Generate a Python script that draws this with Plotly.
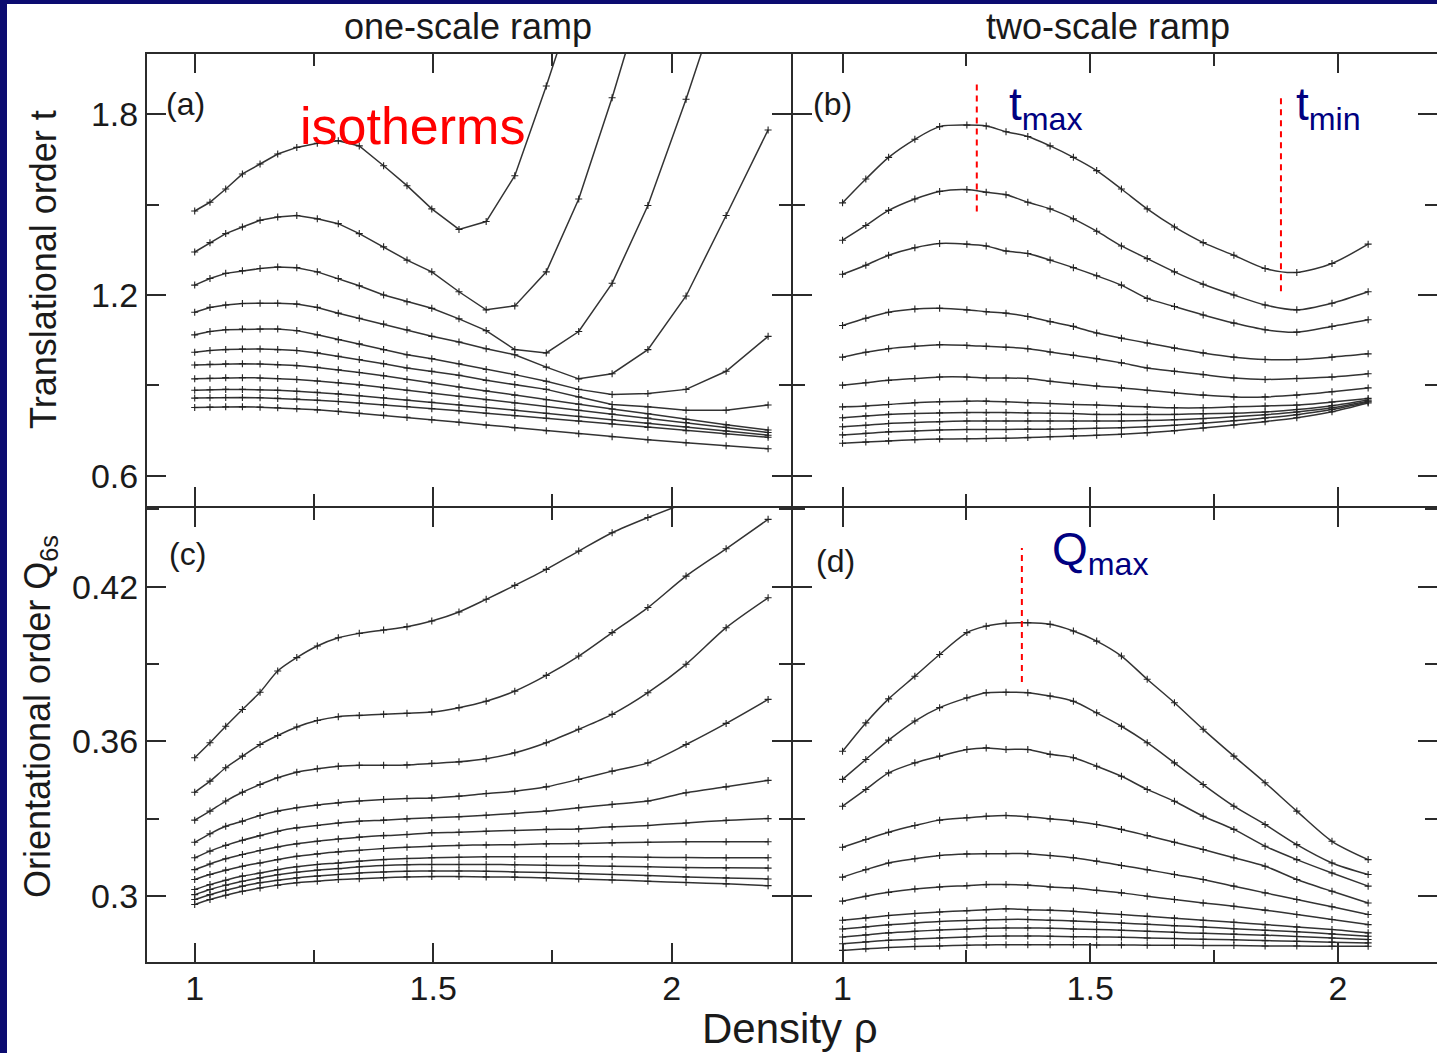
import plotly.graph_objects as go

W, H = 1437, 1053
FONT = "Liberation Sans"
INK = "#2b2b2b"
NAVY = "#000080"

# densities of the two ramp potentials
rho_one = [1.000, 1.032, 1.065, 1.100, 1.137, 1.174, 1.214, 1.257, 1.301, 1.345, 1.396, 1.445,
           1.497, 1.554, 1.611, 1.671, 1.737, 1.805, 1.875, 1.950, 2.030, 2.114, 2.202]
rho_two = [1.000, 1.047, 1.093, 1.146, 1.196, 1.251, 1.290, 1.330, 1.374, 1.419, 1.466, 1.513,
           1.563, 1.615, 1.670, 1.728, 1.790, 1.853, 1.917, 1.988, 2.061]

# (a) translational order t, one-scale ramp (isotherms, low T at top)
t_one = [
    [1.479, 1.508, 1.552, 1.602, 1.635, 1.668, 1.690, 1.704, 1.712, 1.695, 1.629, 1.563, 1.486, 1.418, 1.444, 1.596, 1.894, 2.220, None, None, None, None, None],
    [1.343, 1.374, 1.404, 1.426, 1.448, 1.459, 1.464, 1.453, 1.437, 1.404, 1.360, 1.316, 1.277, 1.211, 1.151, 1.164, 1.277, 1.519, 1.855, 2.250, None, None, None],
    [1.233, 1.255, 1.272, 1.281, 1.288, 1.293, 1.291, 1.277, 1.255, 1.231, 1.200, 1.178, 1.156, 1.121, 1.082, 1.019, 1.008, 1.079, 1.239, 1.497, 1.850, 2.250, None],
    [1.143, 1.159, 1.167, 1.172, 1.173, 1.173, 1.170, 1.159, 1.140, 1.123, 1.104, 1.085, 1.063, 1.044, 1.022, 1.002, 0.961, 0.922, 0.939, 1.019, 1.197, 1.464, 1.748],
    [1.068, 1.079, 1.085, 1.087, 1.087, 1.087, 1.082, 1.068, 1.052, 1.038, 1.019, 1.002, 0.989, 0.972, 0.953, 0.936, 0.914, 0.887, 0.870, 0.873, 0.887, 0.947, 1.063],
    [1.010, 1.016, 1.019, 1.021, 1.021, 1.019, 1.016, 1.008, 0.997, 0.986, 0.972, 0.958, 0.947, 0.934, 0.917, 0.903, 0.887, 0.862, 0.837, 0.829, 0.818, 0.818, 0.835],
    [0.968, 0.970, 0.972, 0.972, 0.971, 0.969, 0.966, 0.960, 0.952, 0.943, 0.932, 0.920, 0.908, 0.895, 0.882, 0.868, 0.853, 0.838, 0.822, 0.806, 0.788, 0.770, 0.752],
    [0.922, 0.924, 0.926, 0.926, 0.925, 0.923, 0.920, 0.915, 0.909, 0.902, 0.893, 0.884, 0.874, 0.864, 0.853, 0.842, 0.830, 0.818, 0.805, 0.792, 0.777, 0.761, 0.744],
    [0.884, 0.886, 0.887, 0.887, 0.886, 0.884, 0.881, 0.877, 0.872, 0.866, 0.859, 0.852, 0.844, 0.836, 0.827, 0.818, 0.808, 0.798, 0.787, 0.775, 0.763, 0.749, 0.735],
    [0.858, 0.859, 0.860, 0.860, 0.859, 0.857, 0.855, 0.851, 0.847, 0.842, 0.836, 0.830, 0.823, 0.816, 0.808, 0.800, 0.791, 0.782, 0.772, 0.761, 0.750, 0.739, 0.728],
    [0.827, 0.828, 0.829, 0.829, 0.828, 0.826, 0.823, 0.819, 0.814, 0.808, 0.801, 0.794, 0.786, 0.778, 0.769, 0.760, 0.750, 0.740, 0.730, 0.720, 0.710, 0.700, 0.690],
]

# (b) translational order t, two-scale ramp
t_two = [
    [1.506, 1.585, 1.657, 1.717, 1.759, 1.764, 1.761, 1.742, 1.726, 1.695, 1.657, 1.613, 1.552, 1.486, 1.426, 1.374, 1.332, 1.288, 1.275, 1.305, 1.369],
    [1.382, 1.431, 1.481, 1.519, 1.544, 1.550, 1.541, 1.533, 1.508, 1.486, 1.453, 1.412, 1.363, 1.321, 1.277, 1.236, 1.200, 1.167, 1.151, 1.173, 1.211],
    [1.269, 1.299, 1.332, 1.357, 1.371, 1.369, 1.363, 1.346, 1.338, 1.316, 1.291, 1.264, 1.233, 1.189, 1.162, 1.134, 1.107, 1.085, 1.077, 1.096, 1.118],
    [1.099, 1.123, 1.143, 1.154, 1.156, 1.151, 1.145, 1.140, 1.129, 1.112, 1.096, 1.074, 1.057, 1.041, 1.024, 1.008, 0.994, 0.986, 0.986, 0.994, 1.005],
    [0.994, 1.010, 1.022, 1.030, 1.035, 1.033, 1.030, 1.027, 1.022, 1.011, 1.000, 0.989, 0.975, 0.958, 0.947, 0.936, 0.925, 0.920, 0.923, 0.928, 0.939],
    [0.901, 0.909, 0.917, 0.923, 0.928, 0.928, 0.925, 0.925, 0.923, 0.914, 0.906, 0.898, 0.892, 0.884, 0.876, 0.868, 0.862, 0.862, 0.868, 0.879, 0.892],
    [0.829, 0.832, 0.837, 0.843, 0.846, 0.848, 0.848, 0.846, 0.843, 0.840, 0.837, 0.835, 0.832, 0.829, 0.826, 0.826, 0.829, 0.832, 0.835, 0.845, 0.857],
    [0.793, 0.799, 0.804, 0.807, 0.809, 0.810, 0.810, 0.810, 0.809, 0.808, 0.807, 0.804, 0.804, 0.804, 0.804, 0.806, 0.808, 0.812, 0.820, 0.833, 0.852],
    [0.763, 0.768, 0.774, 0.777, 0.780, 0.782, 0.782, 0.782, 0.782, 0.782, 0.782, 0.782, 0.782, 0.784, 0.786, 0.790, 0.796, 0.803, 0.812, 0.826, 0.848],
    [0.736, 0.741, 0.746, 0.749, 0.752, 0.754, 0.754, 0.754, 0.755, 0.755, 0.756, 0.758, 0.760, 0.763, 0.768, 0.775, 0.783, 0.792, 0.803, 0.820, 0.845],
    [0.708, 0.712, 0.716, 0.720, 0.722, 0.723, 0.724, 0.725, 0.727, 0.730, 0.732, 0.735, 0.738, 0.743, 0.750, 0.759, 0.769, 0.780, 0.793, 0.813, 0.842],
]

# (c) orientational order Q6s, one-scale ramp
q_one = [
    [0.3537, 0.3595, 0.3659, 0.3724, 0.3791, 0.3873, 0.3925, 0.3970, 0.4002, 0.4019, 0.4032, 0.4045, 0.4067, 0.4102, 0.4151, 0.4205, 0.4267, 0.4338, 0.4409, 0.4468, 0.4525, None, None],
    [0.3403, 0.3446, 0.3498, 0.3543, 0.3588, 0.3623, 0.3656, 0.3681, 0.3696, 0.3701, 0.3705, 0.3709, 0.3714, 0.3731, 0.3756, 0.3795, 0.3856, 0.3931, 0.4022, 0.4119, 0.4241, 0.4347, 0.4461],
    [0.3295, 0.3330, 0.3369, 0.3403, 0.3433, 0.3459, 0.3481, 0.3494, 0.3504, 0.3508, 0.3508, 0.3509, 0.3515, 0.3521, 0.3533, 0.3556, 0.3595, 0.3647, 0.3705, 0.3789, 0.3899, 0.4041, 0.4157],
    [0.3209, 0.3242, 0.3271, 0.3291, 0.3313, 0.3330, 0.3343, 0.3353, 0.3362, 0.3369, 0.3375, 0.3379, 0.3381, 0.3388, 0.3398, 0.3407, 0.3424, 0.3453, 0.3485, 0.3517, 0.3588, 0.3670, 0.3763],
    [0.3149, 0.3175, 0.3197, 0.3217, 0.3235, 0.3252, 0.3265, 0.3274, 0.3284, 0.3291, 0.3295, 0.3300, 0.3304, 0.3308, 0.3314, 0.3321, 0.3330, 0.3343, 0.3356, 0.3369, 0.3401, 0.3424, 0.3449],
    [0.3103, 0.3125, 0.3145, 0.3162, 0.3177, 0.3191, 0.3203, 0.3213, 0.3222, 0.3229, 0.3235, 0.3239, 0.3246, 0.3248, 0.3252, 0.3255, 0.3259, 0.3261, 0.3269, 0.3274, 0.3284, 0.3294, 0.3301],
    [0.3065, 0.3084, 0.3101, 0.3116, 0.3129, 0.3142, 0.3155, 0.3164, 0.3172, 0.3178, 0.3185, 0.3190, 0.3194, 0.3197, 0.3199, 0.3200, 0.3203, 0.3204, 0.3207, 0.3209, 0.3211, 0.3211, 0.3211],
    [0.3026, 0.3045, 0.3062, 0.3078, 0.3090, 0.3103, 0.3114, 0.3123, 0.3129, 0.3136, 0.3142, 0.3146, 0.3149, 0.3151, 0.3153, 0.3153, 0.3153, 0.3153, 0.3153, 0.3151, 0.3150, 0.3149, 0.3149],
    [0.3006, 0.3026, 0.3043, 0.3058, 0.3071, 0.3083, 0.3093, 0.3101, 0.3107, 0.3114, 0.3119, 0.3122, 0.3123, 0.3123, 0.3123, 0.3122, 0.3120, 0.3119, 0.3116, 0.3114, 0.3111, 0.3110, 0.3109],
    [0.2987, 0.3006, 0.3023, 0.3039, 0.3052, 0.3062, 0.3071, 0.3078, 0.3084, 0.3090, 0.3094, 0.3097, 0.3098, 0.3098, 0.3097, 0.3094, 0.3092, 0.3088, 0.3084, 0.3080, 0.3075, 0.3071, 0.3067],
    [0.2968, 0.2987, 0.3004, 0.3019, 0.3032, 0.3043, 0.3052, 0.3058, 0.3065, 0.3068, 0.3072, 0.3075, 0.3076, 0.3076, 0.3075, 0.3074, 0.3071, 0.3067, 0.3063, 0.3058, 0.3053, 0.3048, 0.3041],
]

# (d) orientational order Q6s, two-scale ramp
q_two = [
    [0.3562, 0.3672, 0.3765, 0.3853, 0.3937, 0.4022, 0.4047, 0.4058, 0.4060, 0.4054, 0.4028, 0.3989, 0.3931, 0.3841, 0.3750, 0.3647, 0.3543, 0.3440, 0.3330, 0.3213, 0.3142],
    [0.3453, 0.3530, 0.3605, 0.3679, 0.3731, 0.3769, 0.3789, 0.3791, 0.3789, 0.3776, 0.3756, 0.3711, 0.3659, 0.3595, 0.3517, 0.3433, 0.3349, 0.3278, 0.3200, 0.3129, 0.3084],
    [0.3349, 0.3414, 0.3478, 0.3517, 0.3543, 0.3569, 0.3575, 0.3569, 0.3569, 0.3550, 0.3537, 0.3504, 0.3465, 0.3414, 0.3368, 0.3310, 0.3259, 0.3194, 0.3142, 0.3090, 0.3039],
    [0.3190, 0.3220, 0.3248, 0.3274, 0.3295, 0.3304, 0.3310, 0.3313, 0.3308, 0.3300, 0.3291, 0.3278, 0.3259, 0.3235, 0.3209, 0.3181, 0.3149, 0.3116, 0.3065, 0.3019, 0.2974],
    [0.3074, 0.3103, 0.3129, 0.3145, 0.3158, 0.3164, 0.3165, 0.3165, 0.3165, 0.3158, 0.3149, 0.3136, 0.3119, 0.3103, 0.3084, 0.3065, 0.3039, 0.3013, 0.2987, 0.2959, 0.2929],
    [0.2981, 0.3000, 0.3015, 0.3028, 0.3036, 0.3041, 0.3045, 0.3045, 0.3043, 0.3036, 0.3032, 0.3023, 0.3013, 0.3000, 0.2987, 0.2974, 0.2961, 0.2946, 0.2929, 0.2910, 0.2890],
    [0.2907, 0.2916, 0.2925, 0.2933, 0.2939, 0.2944, 0.2948, 0.2951, 0.2948, 0.2946, 0.2942, 0.2935, 0.2929, 0.2922, 0.2915, 0.2907, 0.2899, 0.2890, 0.2881, 0.2871, 0.2858],
    [0.2873, 0.2881, 0.2889, 0.2896, 0.2902, 0.2906, 0.2908, 0.2910, 0.2910, 0.2907, 0.2904, 0.2900, 0.2896, 0.2891, 0.2886, 0.2881, 0.2874, 0.2868, 0.2862, 0.2854, 0.2845],
    [0.2842, 0.2850, 0.2858, 0.2864, 0.2869, 0.2873, 0.2876, 0.2877, 0.2877, 0.2876, 0.2873, 0.2871, 0.2868, 0.2864, 0.2860, 0.2856, 0.2853, 0.2849, 0.2844, 0.2838, 0.2832],
    [0.2816, 0.2823, 0.2829, 0.2834, 0.2838, 0.2842, 0.2845, 0.2846, 0.2846, 0.2845, 0.2843, 0.2842, 0.2841, 0.2838, 0.2836, 0.2833, 0.2831, 0.2828, 0.2825, 0.2822, 0.2819],
    [0.2790, 0.2796, 0.2801, 0.2805, 0.2807, 0.2810, 0.2811, 0.2812, 0.2812, 0.2812, 0.2812, 0.2811, 0.2811, 0.2810, 0.2810, 0.2809, 0.2809, 0.2807, 0.2807, 0.2806, 0.2806],
]

# positions of the marked extrema (red dashed guides)
tmax_rho, tmax_span = 1.271, [1.477, 1.915]
tmin_rho, tmin_span = 1.885, [1.213, 1.863]
qmax_rho, qmax_span = 1.362, [0.383, 0.435]


def px(x):
    return x / W


def py(y):
    return 1 - y / H


fig = go.Figure()

panels = [
    (rho_one, t_one, "x", "y", "linear"),
    (rho_two, t_two, "x2", "y2", "spline"),
    (rho_one, q_one, "x3", "y3", "spline"),
    (rho_two, q_two, "x4", "y4", "spline"),
]
for rho, curves, xa, ya, shape in panels:
    for vals in curves:
        fig.add_trace(go.Scatter(
            x=rho, y=vals, xaxis=xa, yaxis=ya,
            mode="lines+markers",
            line=dict(color="#333333", width=1.5, shape=shape, smoothing=0.8),
            marker=dict(symbol="cross-thin", size=5, line=dict(color="#222222", width=1.1)),
            connectgaps=False, showlegend=False, hoverinfo="skip",
        ))


def xaxis(domain, rng, labels, anchor):
    return dict(
        domain=domain, range=rng, anchor=anchor,
        showline=True, linecolor=INK, linewidth=2, mirror="ticks",
        ticks="inside", ticklen=19, tickwidth=1.5, tickcolor=INK,
        tick0=1, dtick=0.5, showticklabels=labels, ticklabelstandoff=-5,
        tickfont=dict(family=FONT, size=34, color="#1a1a1a"),
        minor=dict(ticks="inside", ticklen=12, tickwidth=1.5, tickcolor=INK, tick0=1, dtick=0.25),
        showgrid=False, zeroline=False,
    )


def yaxis(domain, rng, t0, dt, labels, anchor, line=True):
    return dict(
        domain=domain, range=rng, anchor=anchor,
        showline=line, linecolor=INK, linewidth=2, mirror="ticks",
        ticks="inside", ticklen=19, tickwidth=1.5, tickcolor=INK,
        tick0=t0, dtick=dt, showticklabels=labels,
        tickfont=dict(family=FONT, size=34, color="#1a1a1a"),
        minor=dict(ticks="inside", ticklen=12, tickwidth=1.5, tickcolor=INK, tick0=t0, dtick=dt / 2),
        showgrid=False, zeroline=False,
    )


# axis lines sit outside the plot area, so neighbouring panels are offset to share one line
dom_left = [px(147), px(791)]
dom_right = [px(793), 1.0]
dom_top = [py(506), py(54)]
dom_bot = [py(962), py(508)]
t_range = [0.5, 2.0]
q_range = [0.2745, 0.4505]

fig.update_layout(
    width=W, height=H,
    margin=dict(l=0, r=0, t=0, b=0),
    paper_bgcolor="white", plot_bgcolor="white",
    xaxis=xaxis(dom_left, [0.9, 2.25], False, "y"),
    xaxis2=xaxis(dom_right, [0.9, 2.2], False, "y2"),
    xaxis3=xaxis(dom_left, [0.9, 2.25], True, "y3"),
    xaxis4=xaxis(dom_right, [0.9, 2.2], True, "y4"),
    yaxis=yaxis(dom_top, t_range, 0.6, 0.6, True, "x"),
    yaxis2=yaxis(dom_top, t_range, 0.6, 0.6, False, "x2", line=False),
    yaxis3=yaxis(dom_bot, q_range, 0.3, 0.06, True, "x3"),
    yaxis4=yaxis(dom_bot, q_range, 0.3, 0.06, False, "x4", line=False),
)

shapes = [
    # navy slide frame
    dict(type="rect", xref="paper", yref="paper", x0=0, x1=px(7), y0=0, y1=1,
         fillcolor="#0b0b70", line=dict(width=0), layer="above"),
    dict(type="rect", xref="paper", yref="paper", x0=0, x1=1, y0=py(4), y1=1,
         fillcolor="#0b0b70", line=dict(width=0), layer="above"),
    dict(type="line", xref="x2", yref="y2", x0=tmax_rho, x1=tmax_rho, y0=tmax_span[0], y1=tmax_span[1],
         line=dict(color="#ff0000", width=2, dash="6px,5px")),
    dict(type="line", xref="x2", yref="y2", x0=tmin_rho, x1=tmin_rho, y0=tmin_span[0], y1=tmin_span[1],
         line=dict(color="#ff0000", width=2, dash="6px,5px")),
    dict(type="line", xref="x4", yref="y4", x0=qmax_rho, x1=qmax_rho, y0=qmax_span[0], y1=qmax_span[1],
         line=dict(color="#ff0000", width=2, dash="6px,5px")),
]
fig.update_layout(shapes=shapes)


def ann(text, x, y, size, color="#1a1a1a", xanchor="center", yanchor="middle", angle=0, family=FONT):
    return dict(text=text, x=px(x), y=py(y), xref="paper", yref="paper",
                xanchor=xanchor, yanchor=yanchor, textangle=angle, showarrow=False,
                font=dict(family=family, size=size, color=color))


annotations = [
    ann("one-scale ramp", 468, 26, 36),
    ann("two-scale ramp", 1108, 26, 36),
    ann("Translational order t", 43, 270, 36, angle=-90),
    ann("Orientational order Q<sub>6s</sub>", 40, 717, 36, angle=-90),
    ann("Density ρ", 790, 1028, 42),
    ann("(a)", 164, 104, 32, xanchor="left"),
    ann("(b)", 811, 104, 32, xanchor="left"),
    ann("(c)", 167, 554, 32, xanchor="left"),
    ann("(d)", 814, 561, 32, xanchor="left"),
    ann("isotherms", 298, 126, 52, color="#ff0000", xanchor="left"),
    ann("t<sub>max</sub>", 1007, 108, 46, color=NAVY, xanchor="left"),
    ann("t<sub>min</sub>", 1294, 108, 46, color=NAVY, xanchor="left"),
    ann("Q<sub>max</sub>", 1050, 552, 46, color=NAVY, xanchor="left"),
]
fig.update_layout(annotations=annotations)

fig.write_html("out.html", config={"displayModeBar": False},
               post_script="document.body.style.margin='0';")
